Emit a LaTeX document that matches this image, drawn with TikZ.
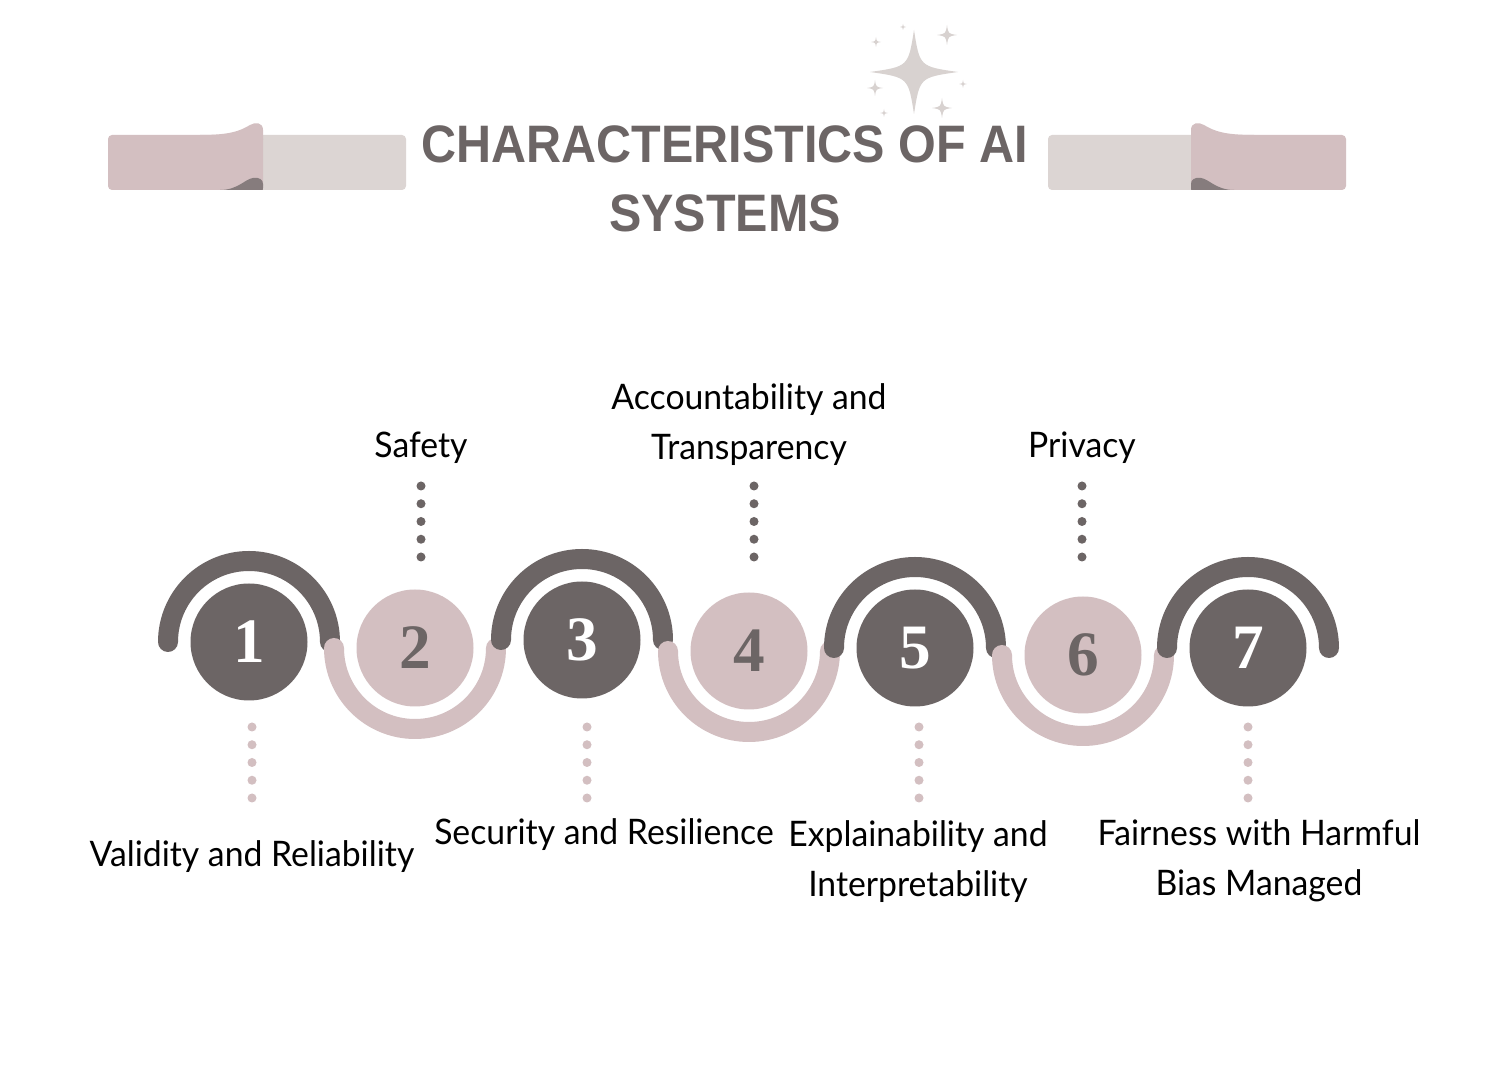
\documentclass[tikz,border=0pt]{standalone}
\usepackage{fontspec}
\usepackage{tikz}
\usetikzlibrary{calc}

\newfontfamily\labelfont[FakeStretch=0.96]{Lato}
\newfontfamily\titlefont[FakeStretch=0.92]{Liberation Sans}
\newfontfamily\numfont{Liberation Serif}

\definecolor{taupe}{RGB}{108,101,101}
\definecolor{blush}{RGB}{211,191,193}
\definecolor{mist}{RGB}{220,213,211}
\definecolor{curlcol}{RGB}{134,124,125}
\definecolor{sparkcol}{RGB}{216,210,208}

% four-point sparkle: x, y, x radius, y radius
\newcommand{\sparkle}[4]{%
  \fill[sparkcol] (#1,#2+#4) .. controls (#1+0.13*#3,#2+0.13*#4) .. (#1+#3,#2)
    .. controls (#1+0.13*#3,#2-0.13*#4) .. (#1,#2-#4)
    .. controls (#1-0.13*#3,#2-0.13*#4) .. (#1-#3,#2)
    .. controls (#1-0.13*#3,#2+0.13*#4) .. cycle;}

\begin{document}
\begin{tikzpicture}[
    numdark/.style={circle, fill=taupe, minimum size=1.17cm, inner sep=0pt,
                    text=white, font=\numfont\bfseries\fontsize{18}{18}\selectfont},
    numlight/.style={numdark, fill=blush, text=taupe},
    arcdark/.style={draw=taupe, line width=0.2cm, line cap=round},
    arclight/.style={draw=blush, line width=0.2cm, line cap=round},
    dotsdark/.style={draw=taupe, line width=0.09cm, line cap=round,
                     dash pattern=on 0pt off 0.1775cm},
    dotslight/.style={dotsdark, draw=blush},
    lbl/.style={font=\labelfont\fontsize{10}{14.2}\selectfont, align=center, inner sep=0pt},
    titletext/.style={font=\titlefont\bfseries\fontsize{15}{15}\selectfont, text=taupe, inner sep=0pt},
]
    \useasboundingbox (0,0) rectangle (15,-10.8);
    \fill[white] (0,0) rectangle (15,-10.8);

    % Ribbons
    \foreach \mx/\sx in {0/1, 14.54/-1} {
        \begin{scope}[xshift=\mx cm, xscale=\sx]
            \fill[mist, rounded corners=0.04cm] (2.55,-1.35) rectangle (4.06,-1.90);
            \fill[blush, rounded corners=0.04cm] (1.08,-1.35) rectangle (2.63,-1.90);
            \fill[blush] (2.00,-1.35) .. controls (2.30,-1.35) and (2.40,-1.31) .. (2.50,-1.25)
                .. controls (2.55,-1.22) and (2.63,-1.22) .. (2.63,-1.30) -- (2.63,-1.40) -- (2.00,-1.40) -- cycle;
            \fill[curlcol] (2.20,-1.90) .. controls (2.38,-1.90) and (2.45,-1.79) .. (2.53,-1.78)
                .. controls (2.60,-1.77) and (2.63,-1.80) .. (2.63,-1.84) -- (2.63,-1.88)
                .. controls (2.63,-1.90) .. (2.61,-1.90) -- cycle;
        \end{scope}
    }

    % Sparkles
    \sparkle{9.14}{-0.72}{0.44}{0.42}
    \sparkle{9.47}{-0.35}{0.10}{0.10}
    \sparkle{8.76}{-0.42}{0.05}{0.05}
    \sparkle{8.75}{-0.88}{0.08}{0.08}
    \sparkle{9.42}{-1.08}{0.10}{0.10}
    \sparkle{9.63}{-0.84}{0.04}{0.04}
    \sparkle{8.84}{-1.13}{0.04}{0.04}
    \sparkle{9.03}{-0.27}{0.03}{0.03}

    % Title
    \node[titletext] (title1) at (7.25,-1.44) {CHARACTERISTICS OF AI};
    \node[titletext] (title2) at (7.25,-2.135) {SYSTEMS};

    % Steps
    \node[numdark]  (c1) at (2.49,-6.42)  {1};
    \node[numlight] (c2) at (4.15,-6.48)  {2};
    \node[numdark]  (c3) at (5.82,-6.40)  {3};
    \node[numlight] (c4) at (7.49,-6.51)  {4};
    \node[numdark]  (c5) at (9.15,-6.48)  {5};
    \node[numlight] (c6) at (10.83,-6.55) {6};
    \node[numdark]  (c7) at (12.48,-6.48) {7};

    % Wave
    \draw[arcdark]  ($(c1)+(-0.81,0)$) arc[start angle=180, end angle=0, radius=0.81cm];
    \draw[arclight] ($(c2)+(-0.81,0)$) arc[start angle=180, end angle=360, radius=0.81cm];
    \draw[arcdark]  ($(c3)+(-0.81,0)$) arc[start angle=180, end angle=0, radius=0.81cm];
    \draw[arclight] ($(c4)+(-0.81,0)$) arc[start angle=180, end angle=360, radius=0.81cm];
    \draw[arcdark]  ($(c5)+(-0.81,0)$) arc[start angle=180, end angle=0, radius=0.81cm];
    \draw[arclight] ($(c6)+(-0.81,0)$) arc[start angle=180, end angle=360, radius=0.81cm];
    \draw[arcdark]  ($(c7)+(-0.81,0)$) arc[start angle=180, end angle=0, radius=0.81cm];

    % Labels
    \node[lbl, anchor=base] (l1) at (2.52,-8.67) {Validity and Reliability};
    \node[lbl, anchor=base] (l2) at (4.21,-4.58) {Safety};
    \node[lbl, anchor=base] (l3) at (6.04,-8.45) {Security and Resilience};
    \node[lbl] (l4) at (7.49,-4.25) {Accountability and\\Transparency};
    \node[lbl, anchor=base] (l6) at (10.82,-4.58) {Privacy};
    \node[lbl] (l5) at (9.18,-8.62) {Explainability and\\Interpretability};
    \node[lbl] (l7) at (12.59,-8.61) {Fairness with Harmful\\Bias Managed};

    % Dots
    \coordinate (s2) at (4.21,-4.86);
    \coordinate (s4) at (7.54,-4.86);
    \coordinate (s6) at (10.82,-4.86);
    \coordinate (s1) at (2.52,-7.27);
    \coordinate (s3) at (5.87,-7.27);
    \coordinate (s5) at (9.19,-7.27);
    \coordinate (s7) at (12.48,-7.27);
    \draw[dotsdark]  (s2) -- ($(s2)+(0,-0.715)$);
    \draw[dotsdark]  (s4) -- ($(s4)+(0,-0.715)$);
    \draw[dotsdark]  (s6) -- ($(s6)+(0,-0.715)$);
    \draw[dotslight] (s1) -- ($(s1)+(0,-0.715)$);
    \draw[dotslight] (s3) -- ($(s3)+(0,-0.715)$);
    \draw[dotslight] (s5) -- ($(s5)+(0,-0.715)$);
    \draw[dotslight] (s7) -- ($(s7)+(0,-0.715)$);
\end{tikzpicture}
\end{document}
